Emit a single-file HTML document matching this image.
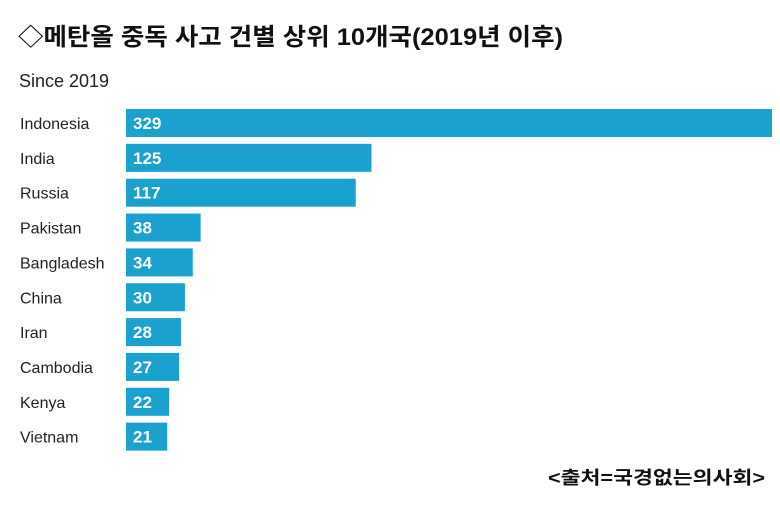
<!DOCTYPE html>
<html><head><meta charset="utf-8"><style>
body{margin:0;background:#fff;width:780px;height:502px;overflow:hidden;font-family:"Liberation Sans","Noto Sans CJK KR",sans-serif;}
</style></head><body>
<svg width="780" height="502">
<text x="18" y="45" font-size="24" font-weight="bold" fill="#111" textLength="545" lengthAdjust="spacingAndGlyphs" font-family="Liberation Sans, Noto Sans CJK KR, sans-serif">◇메탄올 중독 사고 건별 상위 10개국(2019년 이후)</text>
<text x="19" y="87" font-size="18" fill="#222">Since 2019</text>
<g id="bars"></g>
<text x="548" y="484" font-size="18" fill="#111" font-weight="bold" textLength="217" lengthAdjust="spacingAndGlyphs" font-family="Liberation Sans, Noto Sans CJK KR, sans-serif">&lt;출처=국경없는의사회&gt;</text>
</svg>
<script>
const categories=["Indonesia","India","Russia","Pakistan","Bangladesh","China","Iran","Cambodia","Kenya","Vietnam"];
const values=[329,125,117,38,34,30,28,27,22,21];
const maxValue=329;
const x0=126,x1=772,top0=109,step=34.85,bh=28;
const xs=v=>x0+(x1-x0)*v/maxValue;
const g=document.getElementById('bars');
const ns='http://www.w3.org/2000/svg';
categories.forEach((c,i)=>{
  const y=top0+i*step;
  const lab=document.createElementNS(ns,'text');
  lab.setAttribute('x',20);lab.setAttribute('y',y+bh/2+6);lab.setAttribute('font-size','16');lab.setAttribute('fill','#222');
  lab.textContent=c;
  
  
  g.appendChild(lab);
  const r=document.createElementNS(ns,'rect');
  r.setAttribute('x',x0);r.setAttribute('y',y);r.setAttribute('width',xs(values[i])-x0);r.setAttribute('height',bh);r.setAttribute('fill','#1ba1cd');
  
  
  g.appendChild(r);
  const t=document.createElementNS(ns,'text');
  t.setAttribute('x',x0+7);t.setAttribute('y',y+bh/2+6);t.setAttribute('font-size','17');t.setAttribute('fill','#fff');t.setAttribute('font-weight','bold');
  t.textContent=values[i];
  
  
  g.appendChild(t);
});
</script>
</body></html>
